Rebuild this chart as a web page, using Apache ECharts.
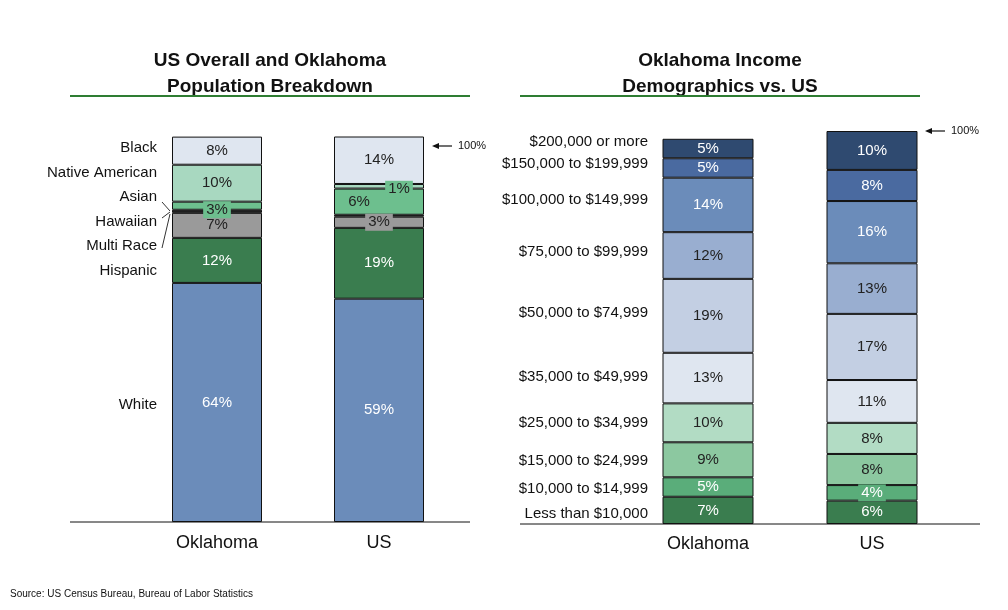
<!DOCTYPE html><html><head><meta charset="utf-8"><script src="https://cdn.jsdelivr.net/npm/echarts@6/dist/echarts.min.js"></script>
<style>body{margin:0;background:#fff}#c{width:1008px;height:610px}</style></head><body><div id="c"></div><script>
const popCats=['Oklahoma','US'];
const popGroups=['White','Hispanic','Multi Race','Hawaiian','Asian','Native American','Black'];
const popValues=[[62.1,58],[11.7,18.4],[6.5,2.9],[0.8,0.5],[2.1,6.8],[9.6,1.2],[7.3,12.5]];
const popLabels=[['64%','59%'],['12%','19%'],['7%','3%'],['',''],['3%','6%'],['10%','1%'],['8%','14%']];
const incCats=['Oklahoma','US'];
const incGroups=['Less than $10,000','$10,000 to $14,999','$15,000 to $24,999','$25,000 to $34,999','$35,000 to $49,999','$50,000 to $74,999','$75,000 to $99,999','$100,000 to $149,999','$150,000 to $199,999','$200,000 or more'];
const incValues=[[7,6],[5,4],[9,8],[10,8],[13,11],[19,17],[12,13],[14,16],[5,8],[5,10]];
const popColors=['#6b8cba','#3a7d4f','#9a9a9a','#222','#6dbf8e','#a8d8c0','#dfe6f0'];
const popText=['#fff','#fff','#222','#222','#222','#222','#222'];
const incColors=['#3a7d4f','#5aad7a','#8cc8a0','#b2dcc4','#dfe6f0','#c3cfe3','#99aed0','#6b8cba','#4a6aa0','#2f4a70'];
const incText=['#fff','#fff','#222','#222','#222','#222','#222','#fff','#fff','#fff'];
const F='Liberation Sans, Arial, sans-serif';
const ch=echarts.init(document.getElementById('c'));
const series=[];
popGroups.forEach((g,i)=>series.push({type:'bar',stack:'p',xAxisIndex:0,yAxisIndex:0,barWidth:90,
 data:popValues[i].map((v,j)=>({value:v,label:{show:!!popLabels[i][j],formatter:popLabels[i][j],
 backgroundColor:(i==4&&j==0)||(i==5&&j==1)?'#6dbf8e':(i==2?'#9a9a9a':'transparent'),padding:[1,3],
 offset:(i==5&&j==1)?[20,3]:(i==4&&j==1)?[-20,0]:(i==4&&j==0)?[0,4]:[0,0]}})),
 itemStyle:{color:popColors[i],borderColor:'#111',borderWidth:1},
 label:{position:'inside',color:popText[i],fontSize:15,fontFamily:F}}));
incGroups.forEach((g,i)=>series.push({type:'bar',stack:'i',xAxisIndex:1,yAxisIndex:1,barWidth:91,
 data:incValues[i].map((v,j)=>({value:v,label:(i==1&&j==1)?{backgroundColor:'#5aad7a',padding:[1,3]}:{}})),
 itemStyle:{color:incColors[i],borderColor:'#111',borderWidth:1},
 label:{show:true,position:'inside',formatter:'{c}%',color:incText[i],fontSize:15,fontFamily:F}}));
const g=[];
const T=(x,y,t,o)=>g.push(Object.assign({type:'text',x,y,style:Object.assign({text:t,font:'15px '+F,fill:'#111'},o||{})}));
T(270,48,'US Overall and Oklahoma\nPopulation Breakdown',{font:'bold 19px '+F,align:'center',lineHeight:26});
T(720,48,'Oklahoma Income\nDemographics vs. US',{font:'bold 19px '+F,align:'center',lineHeight:26});
g.push({type:'line',shape:{x1:70,y1:96,x2:470,y2:96},style:{stroke:'#2e7d32',lineWidth:2}});
g.push({type:'line',shape:{x1:520,y1:96,x2:920,y2:96},style:{stroke:'#2e7d32',lineWidth:2}});
g.push({type:'line',shape:{x1:70,y1:522,x2:470,y2:522},style:{stroke:'#111',lineWidth:1}});
g.push({type:'line',shape:{x1:520,y1:524,x2:980,y2:524},style:{stroke:'#111',lineWidth:1}});
[['Black',148],['Native American',173],['Asian',197],['Hawaiian',222],['Multi Race',246],['Hispanic',271],['White',405]].forEach(a=>T(157,a[1],a[0],{align:'right',verticalAlign:'middle'}));
[[162,202,170,211],[162,218,170,212],[162,248,170,214]].forEach(s=>g.push({type:'line',shape:{x1:s[0],y1:s[1],x2:s[2],y2:s[3]},style:{stroke:'#333',lineWidth:1}}));
[142,164,200,252,313,377,423,461,489,514].reverse().forEach((y,i)=>T(648,y,incGroups[i],{align:'right',verticalAlign:'middle'}));
T(217,543,'Oklahoma',{font:'18px '+F,align:'center',verticalAlign:'middle'});
T(379,543,'US',{font:'18px '+F,align:'center',verticalAlign:'middle'});
T(708,544,'Oklahoma',{font:'18px '+F,align:'center',verticalAlign:'middle'});
T(872,544,'US',{font:'18px '+F,align:'center',verticalAlign:'middle'});
T(10,594,'Source: US Census Bureau, Bureau of Labor Statistics',{font:'10px '+F,verticalAlign:'middle'});
[[432,146,458],[925,131,951]].forEach(a=>{g.push({type:'line',shape:{x1:a[0]+4,y1:a[1],x2:a[0]+20,y2:a[1]},style:{stroke:'#111',lineWidth:1.2}});
 g.push({type:'polygon',shape:{points:[[a[0],a[1]],[a[0]+7,a[1]-3],[a[0]+7,a[1]+3]]},style:{fill:'#111'}});
 T(a[2],a[1],'100%',{font:'11px '+F,verticalAlign:'middle'});});
ch.setOption({animation:false,
 grid:[{left:136,right:548,top:137,bottom:88},{left:626,right:54,top:131,bottom:86}],
 xAxis:[{type:'category',gridIndex:0,data:popCats,axisLine:{show:false},axisTick:{show:false},axisLabel:{show:false}},
  {type:'category',gridIndex:1,data:incCats,axisLine:{show:false},axisTick:{show:false},axisLabel:{show:false}}],
 yAxis:[{type:'value',gridIndex:0,min:0,max:100,show:false},{type:'value',gridIndex:1,min:0,max:101,show:false}],
 series,graphic:g});
</script></body></html>
